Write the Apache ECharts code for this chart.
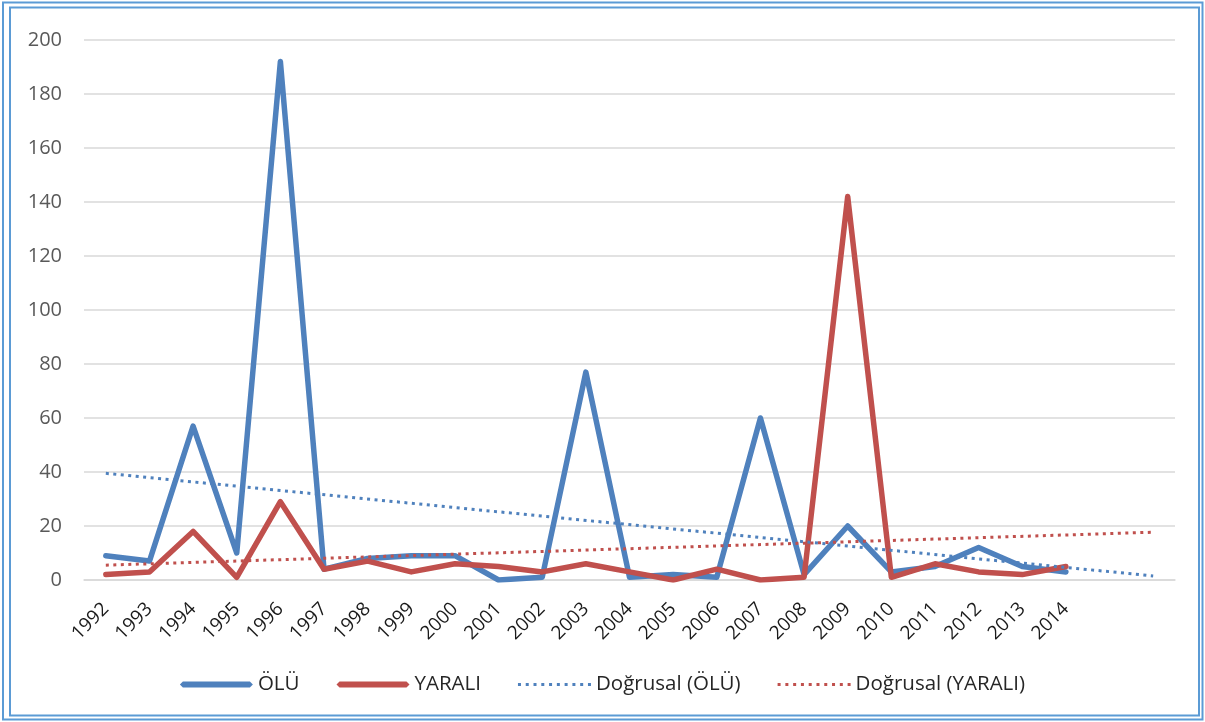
<!DOCTYPE html>
<html>
<head>
<meta charset="utf-8">
<script src="https://cdn.jsdelivr.net/npm/echarts@6/dist/echarts.min.js"></script>
<style>
html,body{margin:0;padding:0;background:#fff;}
#chart{width:1205px;height:722px;}
</style>
</head>
<body>
<div id="chart"></div>
<script>
const years = ['1992','1993','1994','1995','1996','1997','1998','1999','2000','2001','2002','2003','2004','2005','2006','2007','2008','2009','2010','2011','2012','2013','2014'];
const forecastSlots = [' ', '  '];
const olu =    [9, 7, 57, 10, 192, 4, 8, 9, 9, 0, 1, 77, 1, 2, 1, 60, 2, 20, 3, 5, 12, 5, 3];
const yarali = [2, 3, 18, 1, 29, 4, 7, 3, 6, 5, 3, 6, 3, 0, 4, 0, 1, 142, 1, 6, 3, 2, 5];
// trend line end values (start at 1992, end two periods past 2014)
const trendOluEnds = [39.5, 1.5];
const trendYaraliEnds = [5.5, 17.7];
const yTicks = {min: 0, max: 200, interval: 20};

const categories = years.concat(forecastSlots);
function endsToData(ends) {
  const d = categories.map(() => null);
  d[0] = ends[0];
  d[categories.length - 1] = ends[1];
  return d;
}

const BLUE = '#4F81BD', RED = '#C0504D';
const FONT = 'Open Sans';
const thickIcon = 'path://M3,0H70L73,3L70,6H3L0,3Z';
let dots = '';
for (let i = 0; i < 10; i++) { const x = i * 7.78; dots += 'M' + x + ',0h3v3h-3z'; }
const dotIcon = 'path://' + dots;

const chart = echarts.init(document.getElementById('chart'), null, {renderer: 'canvas'});
chart.setOption({
  animation: false,
  backgroundColor: '#fff',
  graphic: [
    {type: 'rect', shape: {x: 3, y: 2.5, width: 1199.5, height: 717}, style: {fill: null, stroke: '#5B9BD5', lineWidth: 2}, silent: true},
    {type: 'rect', shape: {x: 10, y: 7.5, width: 1189, height: 708}, style: {fill: null, stroke: '#5B9BD5', lineWidth: 2}, silent: true}
  ],
  grid: {left: 84, right: 30, top: 40, bottom: 142, containLabel: false},
  legend: {
    bottom: 22,
    left: 'center',
    itemWidth: 73,
    itemHeight: 6,
    itemGap: 37,
    symbolKeepAspect: true,
    textStyle: {fontFamily: FONT, fontSize: 20.5, color: '#262626'},
    data: [
      {name: 'ÖLÜ', icon: thickIcon},
      {name: 'YARALI', icon: thickIcon},
      {name: 'Doğrusal (ÖLÜ)', icon: dotIcon},
      {name: 'Doğrusal (YARALI)', icon: dotIcon}
    ]
  },
  xAxis: {
    type: 'category',
    data: categories,
    boundaryGap: true,
    axisLine: {show: true, lineStyle: {color: '#d9d9d9', width: 1.5}},
    axisTick: {show: false},
    axisLabel: {rotate: 45, interval: 0, margin: 26, fontFamily: FONT, fontSize: 19, color: '#1a1a1a'},
    splitLine: {show: false}
  },
  yAxis: {
    type: 'value',
    min: yTicks.min, max: yTicks.max, interval: yTicks.interval,
    axisLine: {show: false},
    axisTick: {show: false},
    axisLabel: {margin: 22, fontFamily: FONT, fontSize: 20, color: '#595959'},
    splitLine: {lineStyle: {color: '#d9d9d9', width: 1.5}}
  },
  series: [
    {name: 'ÖLÜ', type: 'line', data: olu, symbol: 'none', color: BLUE,
      lineStyle: {color: BLUE, width: 5.5, cap: 'round', join: 'round'}},
    {name: 'YARALI', type: 'line', data: yarali, symbol: 'none', color: RED,
      lineStyle: {color: RED, width: 5.5, cap: 'round', join: 'round'}},
    {name: 'Doğrusal (ÖLÜ)', type: 'line', data: endsToData(trendOluEnds), connectNulls: true, symbol: 'none', color: BLUE,
      lineStyle: {color: BLUE, width: 3, type: [3, 4.5]}},
    {name: 'Doğrusal (YARALI)', type: 'line', data: endsToData(trendYaraliEnds), connectNulls: true, symbol: 'none', color: RED,
      lineStyle: {color: RED, width: 3, type: [3, 4.5]}}
  ]
});
</script>
</body>
</html>
